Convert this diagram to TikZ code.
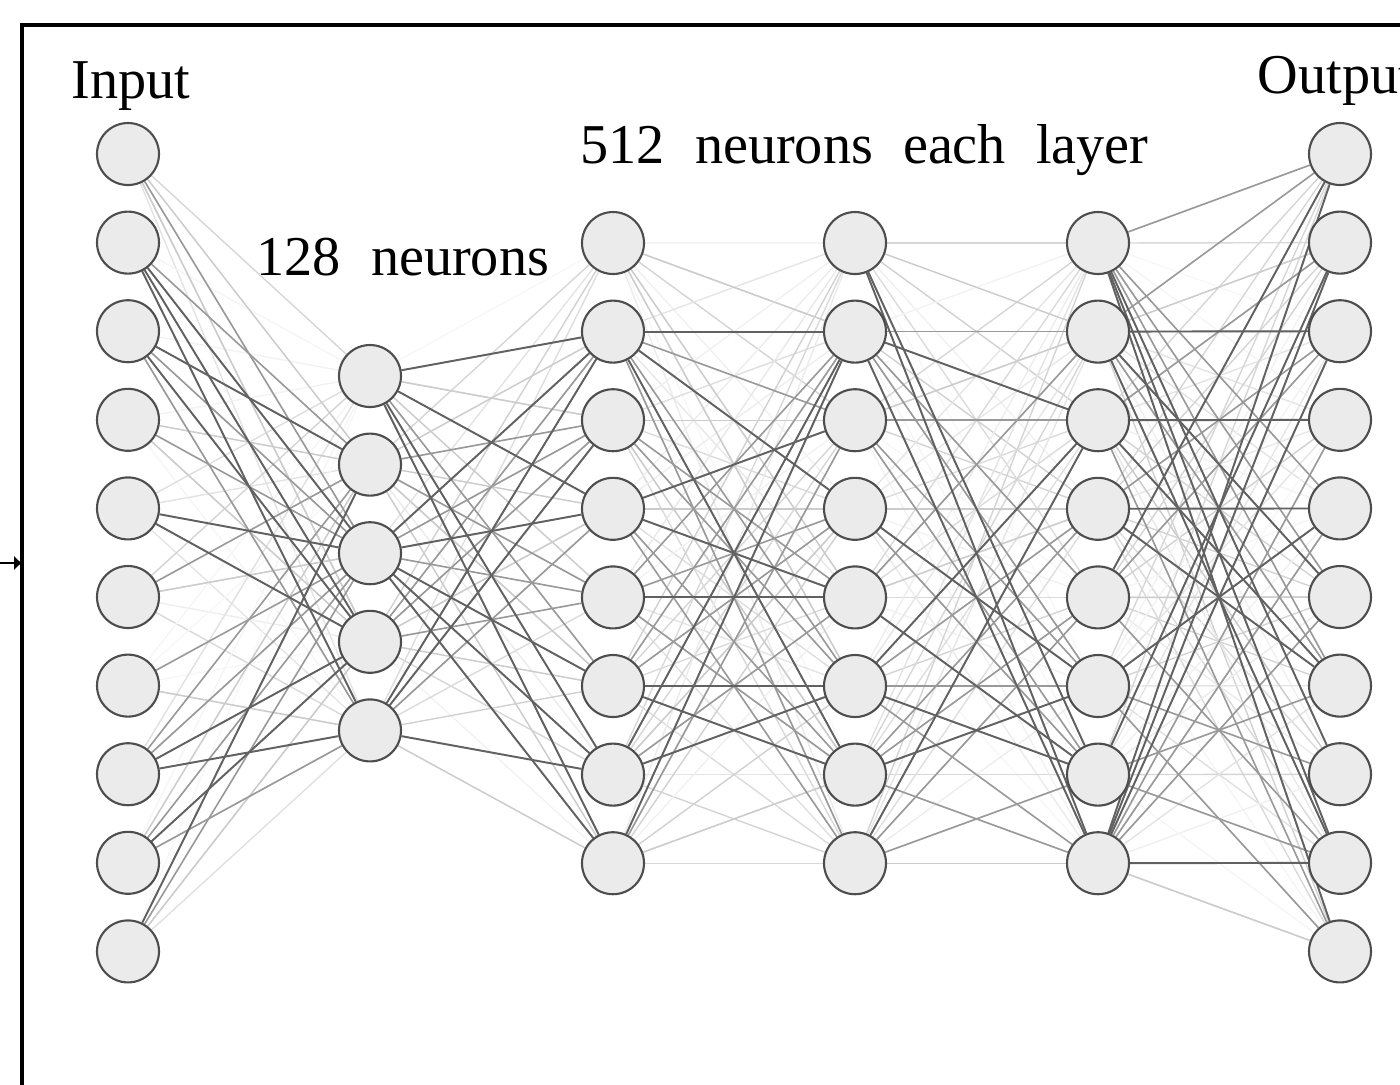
\documentclass[tikz,border=0pt]{standalone}
\usepackage{fontspec}
\setmainfont{Liberation Serif}
\usetikzlibrary{arrows.meta}
\pgfdeclarelayer{edges}
\pgfsetlayers{edges,main}
\definecolor{cellfill}{HTML}{EBEBEB}
\definecolor{cellline}{HTML}{4D4D4D}
\tikzset{
	neuron/.style={circle, draw=cellline, fill=cellfill, line width=0.6pt, minimum size=0.62cm, inner sep=0pt},
	wdark/.style={draw=black!62, line width=0.55pt},
	wmid/.style={draw=black!40, line width=0.45pt},
	wlight/.style={draw=black!20, line width=0.4pt},
	caption/.style={font=\fontsize{16pt}{18pt}\selectfont, inner sep=0pt, anchor=base west},
}

\begin{document}
\begin{tikzpicture}
			%%%%% START %%%%%
			
			\useasboundingbox (0, 0) rectangle (14, -10.84);
			\clip (0, 0) rectangle (14, -10.84);
			
			% frame and input arrow
			\draw[line width=0.9pt] (0.22, -11) -- (0.22, -0.25) -- (14.2, -0.25);
			\coordinate (feed) at (0, -5.63);
			\coordinate (entry) at (0.22, -5.63);
			\draw[line width=0.75pt, -{Latex[length=0.08cm, width=0.15cm]}] (feed) -- (entry);
			
			% neurons
			\foreach \k in {1,...,10}
				\node[neuron] (i\k) at (1.28, {-1.54-0.886*(\k-1)}) {};
			\foreach \k in {1,...,5}
				\node[neuron] (h\k) at (3.70, {-3.76-0.886*(\k-1)}) {};
			\foreach \k in {1,...,8} {
				\node[neuron] (a\k) at (6.13, {-2.43-0.886*(\k-1)}) {};
				\node[neuron] (b\k) at (8.55, {-2.43-0.886*(\k-1)}) {};
				\node[neuron] (c\k) at (10.98, {-2.43-0.886*(\k-1)}) {};
			}
			\foreach \k in {1,...,10}
				\node[neuron] (o\k) at (13.40, {-1.54-0.886*(\k-1)}) {};
			
			% labels
			\node[caption] (lin) at (0.71, -0.98) {Input};
			\node[caption] (lout) at (12.57, -0.93) {Output};
			\node[caption] (lhid) at (2.56, -2.75) {{\spaceskip=0.3cm\relax 128 neurons}};
			\node[caption] (lwide) at (5.80, -1.63) {{\spaceskip=0.3cm\relax 512 neurons each layer}};
			
			\begin{pgfonlayer}{edges}
			% faint weights everywhere
			\pgfmathsetseed{17}
			\foreach \u in {1,...,10}
				\foreach \v in {1,...,5} {
					\pgfmathsetmacro\sh{int(3+16*rnd)}
					\draw[draw=black!\sh, line width=0.4pt] (i\u) -- (h\v);
				}
			\foreach \u in {1,...,5}
				\foreach \v in {1,...,8} {
					\pgfmathsetmacro\sh{int(3+16*rnd)}
					\draw[draw=black!\sh, line width=0.4pt] (h\u) -- (a\v);
				}
			\foreach \u in {1,...,8}
				\foreach \v in {1,...,8} {
					\pgfmathsetmacro\sh{int(3+16*rnd)}
					\draw[draw=black!\sh, line width=0.4pt] (a\u) -- (b\v);
					\pgfmathsetmacro\sh{int(3+16*rnd)}
					\draw[draw=black!\sh, line width=0.4pt] (b\u) -- (c\v);
				}
			\foreach \u in {1,...,8}
				\foreach \v in {1,...,10} {
					\pgfmathsetmacro\sh{int(3+16*rnd)}
					\draw[draw=black!\sh, line width=0.4pt] (c\u) -- (o\v);
				}
			
			% lighter weights
			\foreach \u/\v in {i1/h2, i1/h4, i4/h2, i4/h4, i6/h3, i7/h5, i10/h4, i9/h2,
					h1/a3, h1/a5, h2/a2, h2/a4, h2/a8, h2/a6, h4/a4, h4/a6, h5/a8,
					a1/b2, a1/b5, a3/b3, a4/b4, a7/b4, a8/b7, a1/b6, a3/b7,
					b1/c2, b4/c4, b8/c8, b3/c2, b5/c4,
					c2/o2, c5/o6, c8/o10, c3/o8}
				\draw[wlight] (\u) -- (\v);
			
			% medium weights
			\foreach \u/\v in {i1/h3, i2/h2, i3/h3, i3/h5, i4/h3, i6/h2, i7/h3, i8/h3, i9/h5, i10/h3, i9/h3, i8/h2,
					h2/a5, h2/a3, h3/a3, h3/a5, h4/a2, h4/a3, h4/a5, h5/a4, h1/a6,
					a2/b3, a2/b8, a3/b5, a4/b7, a4/b8, a5/b2, a5/b4, a5/b7, a6/b2, a6/b4, a7/b5, a8/b3, a3/b6, a2/b6,
					b2/c2, b2/c5, b2/c6, b3/c3, b3/c6, b3/c7, b4/c7, b5/c2, b6/c6, b6/c8, b6/c4, b7/c8, b7/c5, b7/c4, b8/c7, b8/c5,
					c1/o1, c1/o7, c1/o5, c1/o6, c2/o1, c2/o7, c3/o2, c3/o10, c4/o3, c5/o9, c5/o3, c6/o8, c6/o10, c7/o9, c7/o7, c8/o4, c8/o6, c8/o5}
				\draw[wmid] (\u) -- (\v);
			
			% strong weights
			\foreach \u/\v in {i2/h3, i2/h4, i2/h5, i3/h2, i3/h4, i5/h3, i5/h4, i8/h4, i8/h5, i9/h4, i10/h2,
					h1/a2, h1/a4, h1/a7, h1/a8, h3/a2, h3/a4, h3/a6, h3/a7, h3/a8, h5/a7, h5/a2, h5/a3,
					a2/b2, a2/b4, a4/b3, a4/b5, a5/b5, a6/b6, a7/b2, a7/b6, a8/b2, a6/b7, a2/b7,
					b1/c7, b1/c8, b2/c3, b4/c6, b5/c7, b6/c3, b6/c7, b7/c6, b8/c3, b2/c8,
					c1/o8, c1/o9, c1/o10, c2/o3, c2/o6, c2/o9, c3/o4, c3/o7, c4/o5, c4/o7, c5/o1, c6/o5, c7/o2, c8/o9, c8/o1, c8/o2, c8/o3}
				\draw[wdark] (\u) -- (\v);
			\end{pgfonlayer}
			
			%%%%% END %%%%%
\end{tikzpicture}
\end{document}
